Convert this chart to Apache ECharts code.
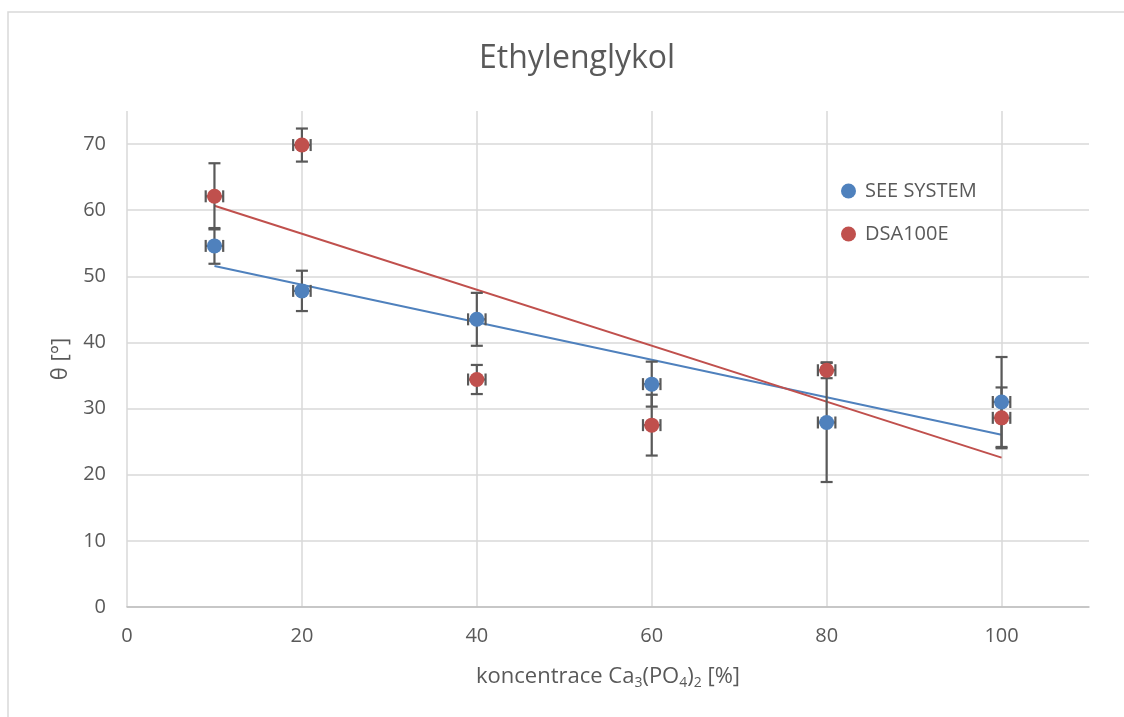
<!DOCTYPE html>
<html>
<head>
<meta charset="utf-8">
<script src="https://cdn.jsdelivr.net/npm/echarts@6/dist/echarts.min.js"></script>
<style>
html,body{margin:0;padding:0;background:#fff;}
#chart{width:1124px;height:717px;}
</style>
</head>
<body>
<div id="chart"></div>
<script>
// ---- data ----
const concentrations = [10, 20, 40, 60, 80, 100];
const seeSystem = [54.6, 47.8, 43.5, 33.7, 27.9, 31.0];
const seeSystemErr = [2.7, 3.05, 4.0, 3.4, 9.0, 6.8];
const dsa100e = [62.1, 69.85, 34.4, 27.5, 35.8, 28.6];
const dsa100eErr = [5.0, 2.5, 2.2, 4.6, 1.2, 4.6];
const xErr = [1, 1, 1, 1, 1, 1];
const seriesNames = ['SEE SYSTEM', 'DSA100E'];
const titleText = 'Ethylenglykol';
const yTicks = [0, 10, 20, 30, 40, 50, 60, 70];
const xTicks = [0, 20, 40, 60, 80, 100];

const BLUE = '#4F81BD';
const RED = '#C0504D';
const TEXT = '#595959';
const FONT = 'Open Sans';

function linReg(xs, ys) {
  const n = xs.length;
  const mx = xs.reduce((a, b) => a + b, 0) / n;
  const my = ys.reduce((a, b) => a + b, 0) / n;
  let sxy = 0, sxx = 0;
  for (let i = 0; i < n; i++) { sxy += (xs[i] - mx) * (ys[i] - my); sxx += (xs[i] - mx) ** 2; }
  const b = sxy / sxx, a = my - b * mx;
  const x0 = Math.min(...xs), x1 = Math.max(...xs);
  return [[x0, a + b * x0], [x1, a + b * x1]];
}

function pts(ys) { return concentrations.map((x, i) => [x, ys[i]]); }
function errData(ys, es) { return concentrations.map((x, i) => [x, ys[i], xErr[i], es[i]]); }

function errRender(params, api) {
  const x = api.value(0), y = api.value(1), ex = api.value(2), ey = api.value(3);
  const top = api.coord([x, y + ey]);
  const bot = api.coord([x, y - ey]);
  const left = api.coord([x - ex, y]);
  const right = api.coord([x + ex, y]);
  const c = 6;
  const style = { stroke: '#595959', lineWidth: 2.2 };
  const seg = (x1, y1, x2, y2) => ({ type: 'line', shape: { x1, y1, x2, y2 }, style });
  return {
    type: 'group',
    children: [
      seg(top[0], top[1], bot[0], bot[1]),
      seg(top[0] - c, top[1], top[0] + c, top[1]),
      seg(bot[0] - c, bot[1], bot[0] + c, bot[1]),
      seg(left[0], left[1], right[0], right[1]),
      seg(left[0], left[1] - c, left[0], left[1] + c),
      seg(right[0], right[1] - c, right[0], right[1] + c)
    ]
  };
}

const chart = echarts.init(document.getElementById('chart'), null, { renderer: 'canvas' });
const option = {
  backgroundColor: '#fff',
  animation: false,
  textStyle: { fontFamily: FONT },
  graphic: [{
    type: 'rect', shape: { x: 8, y: 12, width: 1140, height: 740 },
    style: { fill: 'none', stroke: '#d9d9d9', lineWidth: 1.5 }, silent: true, z: -10
  }],
  title: {
    text: titleText, left: 474, top: 38,
    textStyle: { fontFamily: FONT, fontSize: 32, fontWeight: 'normal', color: TEXT }
  },
  legend: {
    data: seriesNames.map(n => ({ name: n, icon: 'circle' })),
    orient: 'vertical', left: 836, top: 176, itemGap: 23,
    itemWidth: 15, itemHeight: 15,
    textStyle: { fontFamily: FONT, fontSize: 20, color: TEXT, padding: [0, 0, 0, 4] }
  },
  grid: { left: 127, right: 35, top: 111, bottom: 110, containLabel: false },
  xAxis: {
    type: 'value', min: 0, max: 110, interval: 20,
    name: 'koncentrace Ca{s|3}(PO{s|4}){s|2} [%]',
    nameLocation: 'middle', nameGap: 57,
    nameTextStyle: {
      fontFamily: FONT, fontSize: 22, color: TEXT,
      rich: { s: { fontFamily: FONT, fontSize: 14, color: TEXT, verticalAlign: 'bottom', padding: [12, 0, 0, 0] } }
    },
    axisLine: { show: true, lineStyle: { color: '#bfbfbf', width: 1.5 } },
    axisTick: { show: false },
    axisLabel: { margin: 19, fontSize: 20, color: TEXT, fontFamily: FONT, showMaxLabel: false,
      formatter: v => xTicks.includes(v) ? String(v) : '' },
    splitLine: { show: true, showMaxLine: false, lineStyle: { color: '#d9d9d9', width: 1.5 } }
  },
  yAxis: {
    type: 'value', min: 0, max: 75, interval: 10,
    name: 'θ [°]', nameLocation: 'middle', nameGap: 54, nameRotate: 90,
    nameTextStyle: { fontFamily: FONT, fontSize: 22, color: TEXT },
    axisLine: { show: false },
    axisTick: { show: false },
    axisLabel: { margin: 21, fontSize: 20, color: TEXT, fontFamily: FONT, showMaxLabel: false,
      formatter: v => yTicks.includes(v) ? String(v) : '' },
    splitLine: { show: true, showMaxLine: false, lineStyle: { color: '#d9d9d9', width: 1.5 } }
  },
  series: [
    { name: 'trend SEE', type: 'line', data: linReg(concentrations, seeSystem), showSymbol: false,
      lineStyle: { color: BLUE, width: 2 }, z: 2, silent: true },
    { name: 'trend DSA', type: 'line', data: linReg(concentrations, dsa100e), showSymbol: false,
      lineStyle: { color: RED, width: 2 }, z: 2, silent: true },
    { name: 'err SEE', type: 'custom', renderItem: errRender, data: errData(seeSystem, seeSystemErr), z: 3, silent: true },
    { name: 'err DSA', type: 'custom', renderItem: errRender, data: errData(dsa100e, dsa100eErr), z: 3, silent: true },
    { name: seriesNames[0], type: 'scatter', data: pts(seeSystem), symbolSize: 15,
      itemStyle: { color: BLUE, opacity: 1 }, z: 4 },
    { name: seriesNames[1], type: 'scatter', data: pts(dsa100e), symbolSize: 15,
      itemStyle: { color: RED, opacity: 1 }, z: 4 }
  ]
};
chart.setOption(option);
</script>
</body>
</html>
